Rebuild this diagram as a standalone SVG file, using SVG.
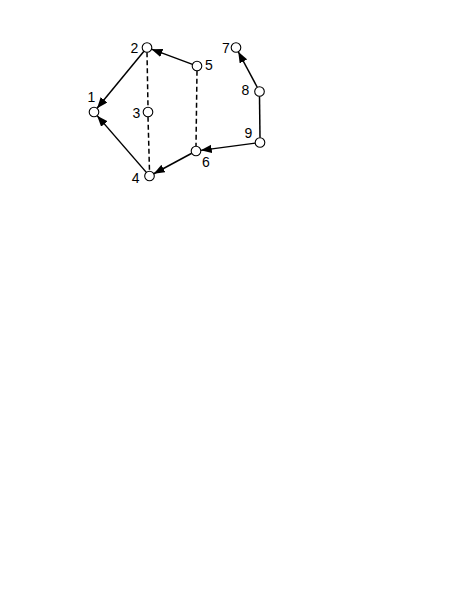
<svg xmlns="http://www.w3.org/2000/svg" width="468" height="605" viewBox="0 0 468 605">
<style>
.node circle{fill:#fff;stroke:#000;stroke-width:1.1}
.node text{font-family:"Liberation Sans",Arial,sans-serif;font-size:14px;fill:#000;text-anchor:middle}
.edge{stroke:#000;stroke-width:1.5;fill:none}
.arrow{marker-end:url(#ah)}
.dash{stroke-dasharray:5,3}
</style>
<defs>
<marker id="ah" markerUnits="userSpaceOnUse" markerWidth="12" markerHeight="9" refX="11" refY="4.25" orient="auto">
<path d="M0,0 L11,4.25 L0,8.5 z" fill="#000"/>
</marker>
</defs>
<rect width="468" height="605" fill="#fff"/>
<g id="connectors">
<line class="edge arrow" x1="143.95" y1="51.2" x2="97.05" y2="108.3"/>
<line class="edge arrow" x1="146.36" y1="172.37" x2="97.14" y2="115.63"/>
<line class="edge arrow" x1="192.5" y1="64.33" x2="151.5" y2="49.17"/>
<line class="edge arrow" x1="191.77" y1="153.27" x2="153.73" y2="173.73"/>
<line class="edge arrow" x1="255.24" y1="143.13" x2="200.76" y2="150.37"/>
<line class="edge arrow" x1="257.24" y1="87.27" x2="238.26" y2="51.73"/>
<line class="edge" x1="259.5" y1="96.3" x2="260" y2="137.7"/>
<line class="edge dash" x1="147" y1="52.3" x2="148" y2="107.2"/>
<line class="edge dash" x1="148" y1="116.8" x2="149.5" y2="171.2"/>
<line class="edge dash" x1="197" y1="70.8" x2="196" y2="146.2"/>
</g>
<g id="n1" class="node"><circle cx="94" cy="112" r="4.8"/><text x="91.5" y="101.7">1</text></g>
<g id="n2" class="node"><circle cx="147" cy="47.5" r="4.8"/><text x="134.3" y="52.5">2</text></g>
<g id="n3" class="node"><circle cx="148" cy="112" r="4.8"/><text x="136.5" y="118">3</text></g>
<g id="n4" class="node"><circle cx="149.5" cy="176" r="4.8"/><text x="135.7" y="183.3">4</text></g>
<g id="n5" class="node"><circle cx="197" cy="66" r="4.8"/><text x="209" y="70">5</text></g>
<g id="n6" class="node"><circle cx="196" cy="151" r="4.8"/><text x="206" y="166.7">6</text></g>
<g id="n7" class="node"><circle cx="236" cy="47.5" r="4.8"/><text x="226" y="52.7">7</text></g>
<g id="n8" class="node"><circle cx="259.5" cy="91.5" r="4.8"/><text x="245.5" y="94.5">8</text></g>
<g id="n9" class="node"><circle cx="260" cy="142.5" r="4.8"/><text x="248.3" y="138">9</text></g>
</svg>
